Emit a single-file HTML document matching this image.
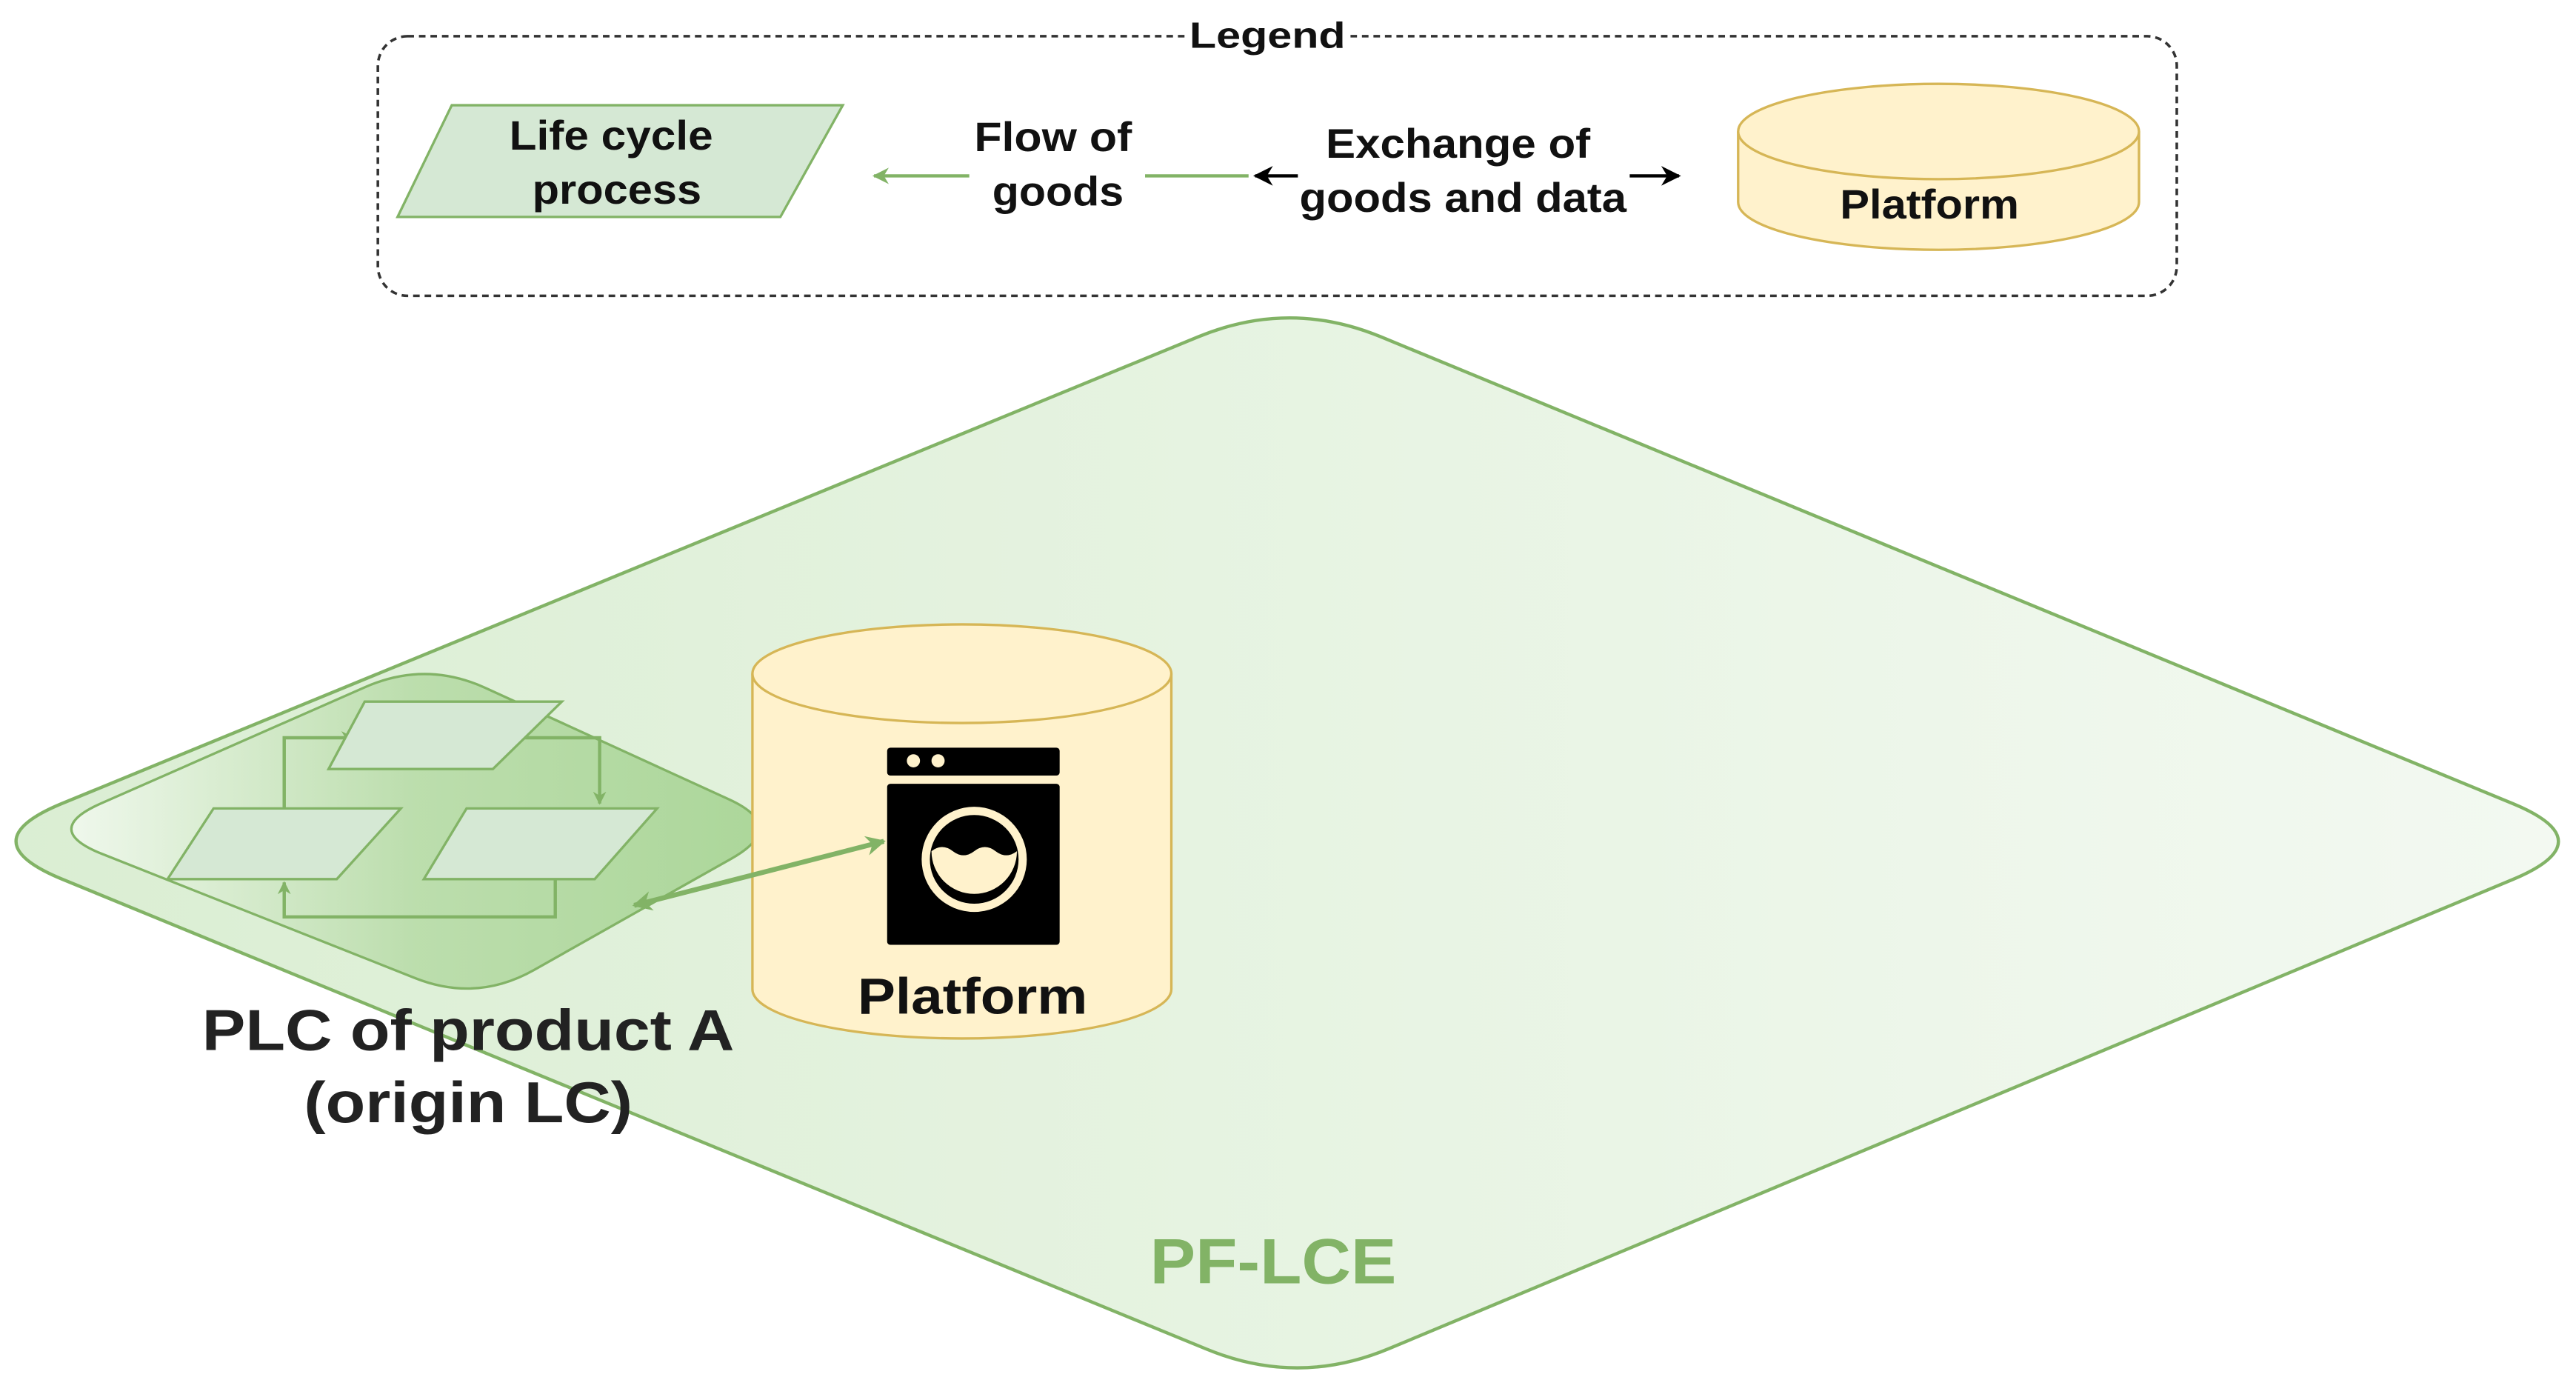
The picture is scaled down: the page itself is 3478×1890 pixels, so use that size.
<!DOCTYPE html>
<html><head><meta charset="utf-8"><style>
html,body{margin:0;padding:0;background:#fff;}
svg{display:block;}
text{font-family:"Liberation Sans",Arial,sans-serif;font-weight:bold;}
</style></head><body>
<svg width="3478" height="1890" viewBox="0 0 1568 852" xmlns="http://www.w3.org/2000/svg">
<defs>
<linearGradient id="gBig" x1="0" y1="0" x2="1" y2="0">
<stop offset="0" stop-color="#d4ebcb"/><stop offset="1" stop-color="#f1f8ef"/>
</linearGradient>
<linearGradient id="gIn" x1="0" y1="0" x2="1" y2="0">
<stop offset="0" stop-color="#f4faf2"/><stop offset="0.5" stop-color="#b3d9a2"/><stop offset="1" stop-color="#9fd08a"/>
</linearGradient>
<marker id="ag" viewBox="0 0 10 10" refX="9" refY="5" markerWidth="5" markerHeight="5" orient="auto-start-reverse"><path d="M0,0 L10,5 L0,10 L3,5 Z" fill="#82b366"/></marker>
<marker id="ag2" viewBox="0 0 10 10" refX="9" refY="5" markerWidth="4" markerHeight="4" orient="auto-start-reverse"><path d="M0,0 L10,5 L0,10 L3,5 Z" fill="#82b366"/></marker>
<marker id="ab" viewBox="0 0 10 10" refX="9" refY="5" markerWidth="6" markerHeight="6" orient="auto-start-reverse"><path d="M0,0 L10,5 L0,10 L3,5 Z" fill="#000"/></marker>
</defs>

<!-- Legend -->
<rect x="230" y="22" width="1095" height="158" rx="18" fill="none" stroke="#333" stroke-width="1.6" stroke-dasharray="4,3"/>
<rect x="722" y="10" width="100" height="24" fill="#fff"/>
<text x="724" y="29" font-size="22" textLength="95" lengthAdjust="spacingAndGlyphs" fill="#111">Legend</text>
<polygon points="275,64 513,64 475,132 242,132" fill="#d5e8d4" stroke="#82b366" stroke-width="1.5"/>
<text x="310" y="91" font-size="25" textLength="124" lengthAdjust="spacingAndGlyphs" fill="#111">Life cycle</text>
<text x="324" y="124" font-size="25" textLength="103" lengthAdjust="spacingAndGlyphs" fill="#111">process</text>
<line x1="590" y1="107" x2="532" y2="107" stroke="#82b366" stroke-width="2" marker-end="url(#ag)"/>
<line x1="697" y1="107" x2="760" y2="107" stroke="#82b366" stroke-width="2"/>
<text x="593" y="92" font-size="25" textLength="96" lengthAdjust="spacingAndGlyphs" fill="#111">Flow of</text>
<text x="604" y="125" font-size="25" textLength="80" lengthAdjust="spacingAndGlyphs" fill="#111">goods</text>
<line x1="790" y1="107" x2="764" y2="107" stroke="#000" stroke-width="2" marker-end="url(#ab)"/>
<line x1="992" y1="107" x2="1022" y2="107" stroke="#000" stroke-width="2" marker-end="url(#ab)"/>
<text x="807" y="96" font-size="25" textLength="161" lengthAdjust="spacingAndGlyphs" fill="#111">Exchange of</text>
<text x="791" y="129" font-size="25" textLength="199" lengthAdjust="spacingAndGlyphs" fill="#111">goods and data</text>
<path d="M1058,80 L1058,123 A122,29 0 0 0 1302,123 L1302,80" fill="#fff2cc" stroke="#d6b656" stroke-width="1.5"/>
<ellipse cx="1180" cy="80" rx="122" ry="29" fill="#fff2cc" stroke="#d6b656" stroke-width="1.5"/>
<text x="1120" y="133" font-size="25" textLength="109" lengthAdjust="spacingAndGlyphs" fill="#111">Platform</text>

<!-- Big diamond -->
<path d="M729.5,204.9 Q785,182 840.4,204.9 L1529.6,489.1 Q1585,512 1529.6,535.2 L845.4,820.8 Q790,844 734.5,821.1 L37.5,534.9 Q-18,512 37.5,489.1 Z" fill="url(#gBig)" fill-opacity="0.85" stroke="#82b366" stroke-width="2"/>

<!-- inner PLC diamond -->
<path d="M222.4,418.1 Q259,402 295.4,418.6 L443.6,486.4 Q480,503 445.1,522.6 L324.9,590.4 Q290,610 252.8,595.3 L62.2,519.7 Q25,505 61.6,488.9 Z" fill="url(#gIn)" fill-opacity="0.8" stroke="#82b366" stroke-width="1.5"/>

<!-- connectors -->
<polyline points="173,492 173,449 215,449" fill="none" stroke="#82b366" stroke-width="2" marker-end="url(#ag2)"/>
<polyline points="318,449 365,449 365,489" fill="none" stroke="#82b366" stroke-width="2" marker-end="url(#ag2)"/>
<polyline points="338,535 338,558 173,558 173,537" fill="none" stroke="#82b366" stroke-width="2" marker-end="url(#ag2)"/>
<!-- small parallelograms -->
<polygon points="222,427 342,427 300,468 200,468" fill="#d5e8d4" stroke="#82b366" stroke-width="1.5"/>
<polygon points="130,492 244,492 205,535 102,535" fill="#d5e8d4" stroke="#82b366" stroke-width="1.5"/>
<polygon points="284,492 400,492 362,535 258,535" fill="#d5e8d4" stroke="#82b366" stroke-width="1.5"/>

<!-- cylinder -->
<path d="M458,410 L458,602 A127.5,30 0 0 0 713,602 L713,410" fill="#fff2cc" stroke="#d6b656" stroke-width="1.5"/>
<ellipse cx="585.5" cy="410" rx="127.5" ry="30" fill="#fff2cc" stroke="#d6b656" stroke-width="1.5"/>
<!-- washing machine -->
<rect x="540" y="455" width="105" height="17" rx="2" fill="#000"/>
<circle cx="556" cy="463" r="4" fill="#fff2cc"/>
<circle cx="571" cy="463" r="4" fill="#fff2cc"/>
<rect x="540" y="477" width="105" height="98" rx="2" fill="#000"/>
<circle cx="593" cy="523" r="32" fill="#fff2cc"/>
<circle cx="593" cy="523" r="27" fill="#000"/>
<path d="M567,518 q6.5,-5 13,0 q6.5,5 13,0 q6.5,-5 13,0 q6.5,5 13,0 A26,26 0 0 1 567,518 Z" fill="#fff2cc"/>
<text x="522" y="617" font-size="31" textLength="140" lengthAdjust="spacingAndGlyphs" fill="#111">Platform</text>

<!-- double arrow -->
<line x1="386" y1="551" x2="538" y2="512" stroke="#82b366" stroke-width="3" marker-start="url(#ag2)" marker-end="url(#ag2)"/>

<text x="123" y="639" font-size="35" textLength="324" lengthAdjust="spacingAndGlyphs" fill="#222">PLC of product A</text>
<text x="185" y="683" font-size="35" textLength="200" lengthAdjust="spacingAndGlyphs" fill="#222">(origin LC)</text>
<text x="700" y="781" font-size="39" textLength="150" lengthAdjust="spacingAndGlyphs" fill="#82b366">PF-LCE</text>
</svg>
</body></html>
